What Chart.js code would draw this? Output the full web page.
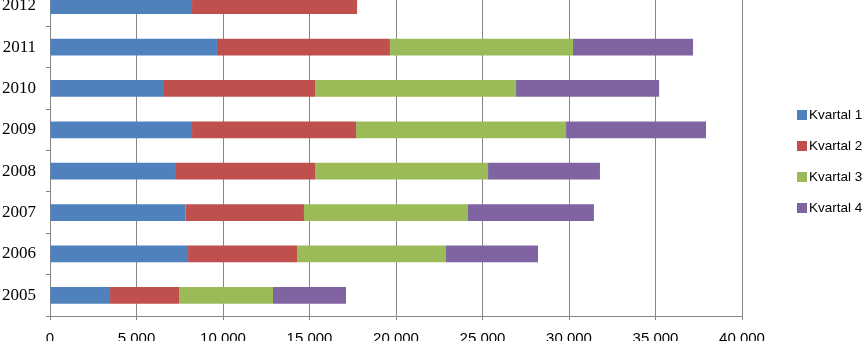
<!DOCTYPE html>
<html>
<head>
<meta charset="utf-8">
<script src="https://cdn.jsdelivr.net/npm/chart.js@4/dist/chart.umd.min.js"></script>
<style>
html,body{margin:0;padding:0;overflow:hidden;background:#fff;width:864px;height:341px}
#wrap{position:absolute;left:0;top:-15px;width:864px;height:356px}
</style>
</head>
<body>
<div id="wrap"><canvas id="c"></canvas></div>
<script>
// ---- data ----
const years = ['2005','2006','2007','2008','2009','2010','2011','2012'];
const seriesNames = ['Kvartal 1','Kvartal 2','Kvartal 3','Kvartal 4'];
const kvartal1 = [3470, 7980, 7840, 7230, 8210, 6590, 9650, 8210];
const kvartal2 = [3990, 6300, 6840, 8090, 9480, 8730, 10000, 9540];
const kvartal3 = [5430, 8610, 9480, 10000, 12140, 11620, 10580, null];
const kvartal4 = [4220, 5320, 7280, 6470, 8090, 8270, 6940, null];
const xTickMin = 0;
const xTickMax = 40000;
const xTickStep = 5000;

// ---- styles ----
const colors = ['#4F81BD', '#C0504D', '#9BBB59', '#8064A2'];
const gridColor = '#868686';

const values = [kvartal1, kvartal2, kvartal3, kvartal4];
const fmt = v => String(v).replace(/\B(?=(\d{3})+(?!\d))/g, ' ');

const sideLegend = {
  id: 'sideLegend',
  afterDraw(chart) {
    const ctx = chart.ctx;
    ctx.save();
    const x0 = chart.chartArea.right + 55;
    const yc = chart.height / 2 - 1.5;
    const step = 31;
    ctx.font = '13.5px "Liberation Sans"';
    ctx.textBaseline = 'middle';
    ctx.textAlign = 'left';
    chart.data.datasets.forEach((ds, i) => {
      const y = yc + (i - (chart.data.datasets.length - 1) / 2) * step;
      ctx.fillStyle = ds.backgroundColor;
      ctx.fillRect(x0, y - 5, 10, 10);
      ctx.fillStyle = '#000';
      ctx.fillText(ds.label, x0 + 12, y);
    });
    ctx.restore();
  }
};

new Chart(document.getElementById('c'), {
  type: 'bar',
  data: {
    labels: years,
    datasets: seriesNames.map((n, i) => ({
      label: n,
      data: values[i],
      backgroundColor: colors[i],
      borderWidth: 0,
      barPercentage: 0.403,
      categoryPercentage: 1
    }))
  },
  options: {
    indexAxis: 'y',
    responsive: true,
    maintainAspectRatio: false,
    animation: false,
    layout: { padding: { left: 0, right: 122, top: 0, bottom: 0 } },
    plugins: { legend: { display: false }, tooltip: { enabled: false } },
    scales: {
      x: {
        stacked: true,
        min: xTickMin,
        max: xTickMax,
        ticks: {
          stepSize: xTickStep,
          padding: 10,
          color: '#000',
          maxRotation: 0,
          autoSkip: false,
          font: { family: 'Liberation Sans', size: 15 },
          callback: v => fmt(v)
        },
        grid: { color: gridColor, lineWidth: 1, tickLength: 4, drawTicks: true },
        border: { color: gridColor },
        afterFit(s) { s.height = 25; }
      },
      y: {
        stacked: true,
        reverse: true,
        ticks: {
          padding: 10,
          color: '#000',
          font: { family: 'Liberation Serif', size: 17 }
        },
        grid: { drawOnChartArea: false, tickLength: 4, color: gridColor },
        border: { color: gridColor },
        afterFit(s) { s.width = 50; s.paddingTop = 0; s.paddingBottom = 0; }
      }
    }
  },
  plugins: [sideLegend]
});
</script>
</body>
</html>
